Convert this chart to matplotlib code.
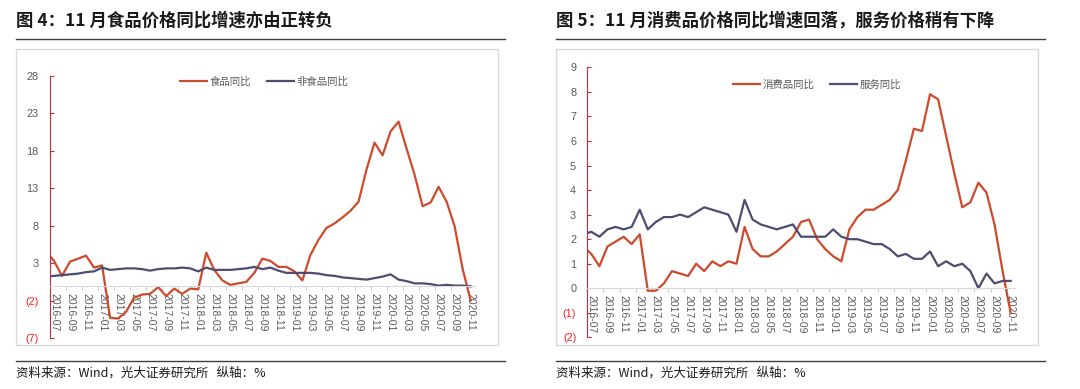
import matplotlib
matplotlib.use('Agg')
import matplotlib.pyplot as plt
from matplotlib.lines import Line2D
from matplotlib.patches import Rectangle
import numpy as np
import pandas as pd

plt.rcParams['font.family'] = ['Liberation Sans', 'Noto Sans CJK SC', 'DejaVu Sans']

# monthly, 2016-06 .. 2020-11 (first point sits just left of the axis and is clipped)
months = pd.period_range('2016-06', '2020-11', freq='M').strftime('%Y-%m').tolist()

food = [4.6, 3.3, 1.3, 3.2, 3.6, 4.0, 2.4,
        2.7, -4.3, -4.4, -3.5, -1.6, -1.2, -1.1, -0.2, -1.4, -0.4, -1.1, -0.4,
        -0.5, 4.4, 2.1, 0.7, 0.1, 0.3, 0.5, 1.7, 3.6, 3.3, 2.5, 2.5,
        1.9, 0.7, 4.1, 6.1, 7.7, 8.3, 9.1, 10.0, 11.2, 15.5, 19.1, 17.4,
        20.6, 21.9, 18.3, 14.8, 10.6, 11.1, 13.2, 11.2, 7.9, 2.2, -2.0]
nonfood = [1.2, 1.3, 1.4, 1.5, 1.6, 1.8, 1.9,
           2.4, 2.1, 2.2, 2.3, 2.3, 2.2, 2.0, 2.2, 2.3, 2.3, 2.4, 2.3,
           1.9, 2.4, 2.1, 2.1, 2.1, 2.2, 2.3, 2.5, 2.2, 2.4, 2.0, 1.7,
           1.7, 1.7, 1.7, 1.6, 1.4, 1.3, 1.1, 1.0, 0.9, 0.8, 1.0, 1.2,
           1.5, 0.8, 0.6, 0.3, 0.3, 0.2, 0.0, 0.1, 0.0, 0.0, -0.1]

goods = [1.7, 1.4, 0.9, 1.7, 1.9, 2.1, 1.8,
         2.2, -0.1, -0.1, 0.2, 0.7, 0.6, 0.5, 1.0, 0.7, 1.1, 0.9, 1.1,
         1.0, 2.5, 1.6, 1.3, 1.3, 1.5, 1.8, 2.1, 2.7, 2.8, 2.0, 1.6,
         1.3, 1.1, 2.4, 2.9, 3.2, 3.2, 3.4, 3.6, 4.0, 5.2, 6.5, 6.4,
         7.9, 7.7, 6.2, 4.7, 3.3, 3.5, 4.3, 3.9, 2.6, 0.7, -1.0]
services = [2.2, 2.3, 2.1, 2.4, 2.5, 2.4, 2.5,
            3.2, 2.4, 2.7, 2.9, 2.9, 3.0, 2.9, 3.1, 3.3, 3.2, 3.1, 3.0,
            2.3, 3.6, 2.8, 2.6, 2.5, 2.4, 2.5, 2.6, 2.1, 2.1, 2.1, 2.1,
            2.4, 2.1, 2.0, 2.0, 1.9, 1.8, 1.8, 1.6, 1.3, 1.4, 1.2, 1.2,
            1.5, 0.9, 1.1, 0.9, 1.0, 0.7, 0.0, 0.6, 0.2, 0.3, 0.3]

W, H = 1080, 389
fig = plt.figure(figsize=(W / 100, H / 100), dpi=100)

CJK = ['Noto Sans CJK SC', 'DejaVu Sans']
RED = '#cd4a2c'
NAVY = '#4f4c72'
AXRED = '#c8283a'
GREY = '#595959'


def fx(px):
    return px / W


def fy(py):
    return 1 - py / H


def frame(x0, title):
    fig.text(fx(x0), fy(21), title, family=CJK, fontsize=12.5, fontweight='bold',
             va='center', ha='left', color='#1a1a1a')
    fig.add_artist(Line2D([fx(x0), fx(x0 + 489)], [fy(39), fy(39)], color='#404040', lw=1))
    fig.add_artist(Rectangle((fx(x0), fy(345)), 482 / W, 296 / H, fill=False,
                             edgecolor='#d9d9d9', lw=1))
    fig.add_artist(Line2D([fx(x0), fx(x0 + 489)], [fy(361), fy(361)], color='#404040', lw=1))
    fig.text(fx(x0), fy(373), '资料来源：Wind，光大证券研究所   纵轴：%', family=CJK,
             fontsize=9, va='center', ha='left', color='#1a1a1a')


def panel(x_left, x_right, y_top, y_bot, ylo, yhi, step, s1, s2, names, leg_xy):
    ax = fig.add_axes([fx(x_left), fy(y_bot), (x_right - x_left) / W, (y_bot - y_top) / H])
    x = np.arange(len(months)) - 1
    ax.plot(x, s1, color=RED, lw=1.6, label=names[0])
    ax.plot(x, s2, color=NAVY, lw=1.6, label=names[1])
    ax.set_xlim(-0.5, 52.5)
    ax.set_ylim(ylo, yhi)

    for side in ['top', 'right']:
        ax.spines[side].set_visible(False)
    ax.spines['left'].set_color(AXRED)
    ax.spines['bottom'].set_position(('data', 0))
    ax.spines['bottom'].set_color('#d9d9d9')

    # labels on every other month, small ticks between categories
    ax.set_xticks(np.arange(0, 53, 2))
    ax.set_xticklabels(months[1::2], rotation=-90)
    ax.set_xticks(np.arange(-0.5, 53, 2), minor=True)
    ax.tick_params(axis='x', which='major', length=0, pad=5, labelsize=7.5, labelcolor=GREY)
    ax.tick_params(axis='x', which='minor', length=3, color='#bfbfbf', direction='out')

    yt = np.arange(ylo, yhi + 0.01, step)
    ax.set_yticks(yt)
    labels = ax.set_yticklabels([f'({abs(v):g})' if v < 0 else f'{v:g}' for v in yt])
    for t, v in zip(labels, yt):
        t.set_color('#ff1f1f' if v < 0 else GREY)
    ax.tick_params(axis='y', direction='in', length=3, color=AXRED, labelsize=7.8, pad=8)

    ax.legend(ncol=2, loc='center left', bbox_to_anchor=(fx(leg_xy[0]), fy(leg_xy[1])),
              bbox_transform=fig.transFigure, frameon=False,
              prop={'family': CJK, 'size': 7.5}, labelcolor=GREY,
              handlelength=2.6, handletextpad=0.25, columnspacing=1.5,
              borderpad=0, borderaxespad=0)
    return ax


frame(16, '图 4：11 月食品价格同比增速亦由正转负')
frame(556, '图 5：11 月消费品价格同比增速回落，服务价格稍有下降')

panel(50, 474.7, 76, 338, -7, 28, 5, food, nonfood, ['食品同比', '非食品同比'], (180, 82))
panel(587.3, 1014.7, 67.3, 337.4, -2, 9, 1, goods, services, ['消费品同比', '服务同比'], (733, 85))

fig.savefig('out.png', dpi=100)
